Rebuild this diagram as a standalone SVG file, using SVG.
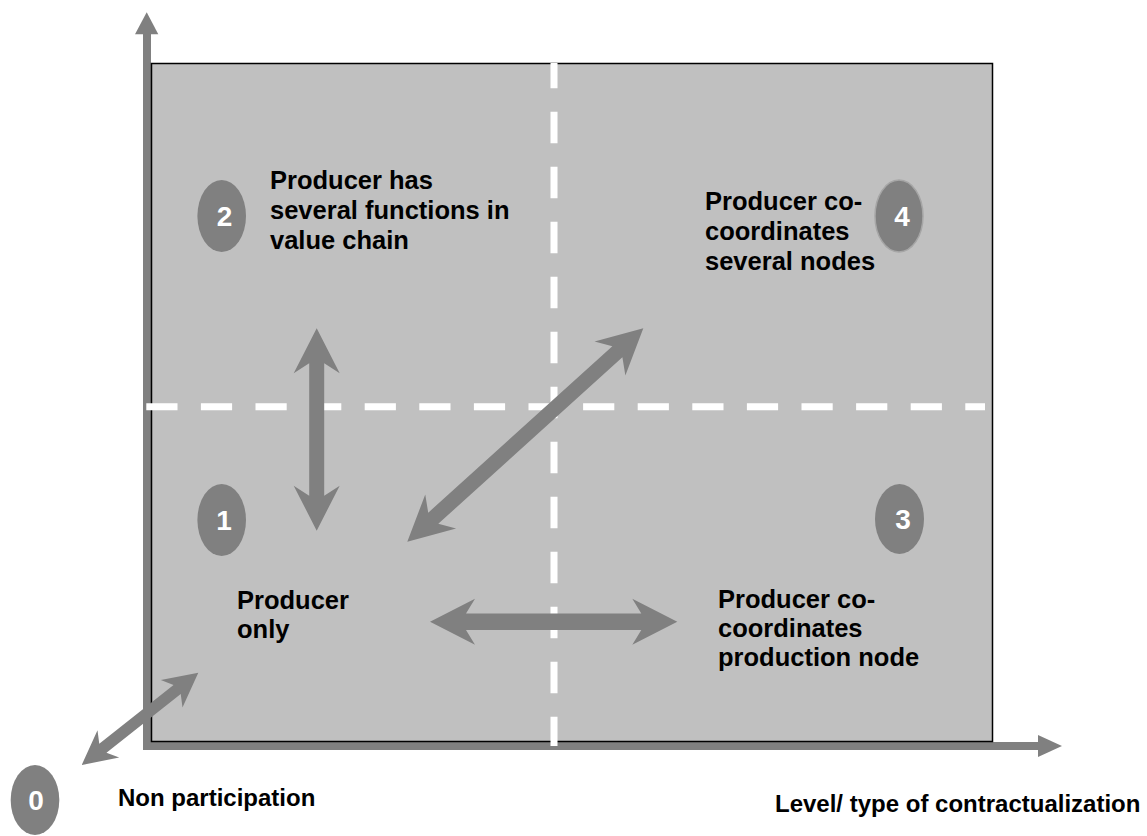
<svg xmlns="http://www.w3.org/2000/svg" width="1147" height="836" viewBox="0 0 1147 836">
<style>
.lbl{font-family:"Liberation Sans",Arial,Helvetica,sans-serif;font-weight:bold;font-size:25.5px;fill:#000}
.ax{font-family:"Liberation Sans",Arial,Helvetica,sans-serif;font-weight:bold;font-size:24px;fill:#000}
.num{font-family:"Liberation Sans",Arial,Helvetica,sans-serif;font-weight:bold;font-size:28px;fill:#fff;text-anchor:middle}
.bubble{fill:#808080}
.arr{fill:#808080}
.dash{stroke:#fff;stroke-width:7;fill:none}
</style>
<rect width="1147" height="836" fill="#fff"/>
<g id="axes">
<rect x="143" y="34" width="8" height="716" fill="#808080"/>
<polygon points="135,34.3 146.7,12.3 158.3,34.3" fill="#808080"/>
<rect x="146" y="742" width="893" height="8" fill="#808080"/>
<polygon points="1038,735 1062,746 1038,757" fill="#808080"/>
</g>
<g id="matrix">
<rect x="151.5" y="63.5" width="841" height="678" fill="#c0c0c0" stroke="#000" stroke-width="1.5"/>
<line class="dash" x1="554" y1="63" x2="554" y2="746" stroke-dasharray="31.6 23.4" stroke-dashoffset="6.3"/>
<line class="dash" x1="146.3" y1="406.7" x2="985" y2="406.7" stroke-dasharray="31.2 23.4"/>
</g>
<g id="connectors">
<path class="arr" transform="translate(316.7,328.3) rotate(90)" d="M0,0 L45,-23 L35,-7.5 L167.4,-7.5 L157.4,-23 L202.4,0 L157.4,23 L167.4,7.5 L35,7.5 L45,23 Z"/>
<path class="arr" transform="translate(430,621.7)" d="M0,0 L45,-23 L36,-8.3 L211.3,-8.3 L202.3,-23 L247.3,0 L202.3,23 L211.3,8.3 L36,8.3 L45,23 Z"/>
<path class="arr" transform="translate(407.3,541.7) rotate(-42.12)" d="M0,0 L45,-23 L35,-7.5 L283.2,-7.5 L273.2,-23 L318.2,0 L273.2,23 L283.2,7.5 L35,7.5 L45,23 Z"/>
<path class="arr" transform="translate(81.7,765) rotate(-38.36)" d="M0,0 L34,-17.5 L27,-5.8 L121.7,-5.8 L114.7,-17.5 L148.7,0 L114.7,17.5 L121.7,5.8 L27,5.8 L34,17.5 Z"/>
</g>
<g id="node0">
<ellipse class="bubble" cx="35" cy="800" rx="24.3" ry="35"/>
<text class="num" x="36" y="810">0</text>
<text class="ax" x="118" y="806">Non participation</text>
</g>
<g id="node1">
<ellipse class="bubble" cx="221.7" cy="520" rx="24.3" ry="36"/>
<text class="num" x="224" y="530">1</text>
<text class="lbl" x="237" y="609">Producer</text>
<text class="lbl" x="237" y="638">only</text>
</g>
<g id="node2">
<ellipse class="bubble" cx="221.7" cy="216" rx="24.3" ry="36"/>
<text class="num" x="224.5" y="226">2</text>
<text class="lbl" x="270" y="189">Producer has</text>
<text class="lbl" x="270" y="219">several functions in</text>
<text class="lbl" x="270" y="249">value chain</text>
</g>
<g id="node3">
<ellipse class="bubble" cx="899.5" cy="519" rx="24.5" ry="35"/>
<text class="num" x="903" y="529">3</text>
<text class="lbl" x="718" y="608">Producer co-</text>
<text class="lbl" x="718" y="637">coordinates</text>
<text class="lbl" x="718" y="666">production node</text>
</g>
<g id="node4">
<ellipse class="bubble" cx="899" cy="216" rx="24" ry="36" stroke="#a6a6a6" stroke-width="1.5"/>
<text class="num" x="902" y="226">4</text>
<text class="lbl" x="705" y="210">Producer co-</text>
<text class="lbl" x="705" y="240">coordinates</text>
<text class="lbl" x="705" y="270">several nodes</text>
</g>
<g id="axis-label">
<text class="ax" x="775" y="812">Level/ type of contractualization</text>
</g>
</svg>
